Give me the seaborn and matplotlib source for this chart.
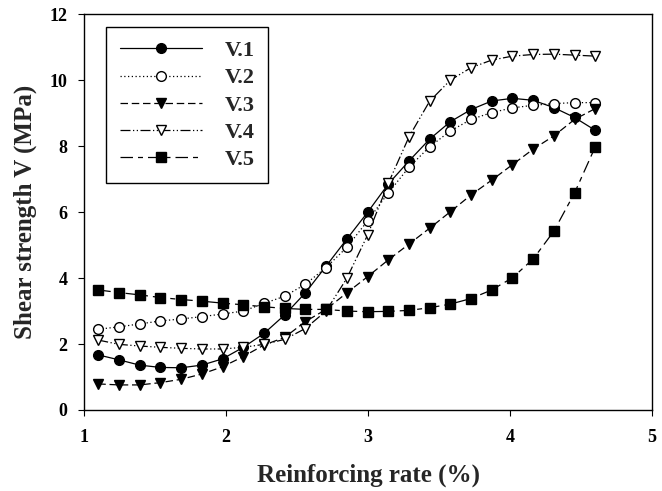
import numpy as np
import pandas as pd
import matplotlib
matplotlib.use("Agg")
import matplotlib.pyplot as plt
import seaborn as sns

# ---- data ----
reinforcing_rate = [1.100, 1.246, 1.392, 1.538, 1.683, 1.829, 1.975, 2.121, 2.267,
                    2.412, 2.558, 2.704, 2.850, 2.996, 3.142, 3.288, 3.433, 3.579,
                    3.725, 3.871, 4.017, 4.163, 4.308, 4.454, 4.600]
v1 = [1.67, 1.52, 1.36, 1.29, 1.28, 1.36, 1.55, 1.90, 2.32, 2.88, 3.55, 4.36, 5.18,
      5.99, 6.85, 7.55, 8.21, 8.74, 9.11, 9.37, 9.45, 9.39, 9.17, 8.87, 8.48]
v2 = [2.45, 2.52, 2.61, 2.70, 2.76, 2.83, 2.91, 3.00, 3.23, 3.45, 3.81, 4.32, 4.93,
      5.73, 6.58, 7.36, 7.98, 8.46, 8.81, 9.02, 9.16, 9.24, 9.29, 9.32, 9.32]
v3 = [0.79, 0.76, 0.76, 0.83, 0.93, 1.09, 1.31, 1.62, 1.97, 2.20, 2.68, 3.05, 3.55,
      4.04, 4.55, 5.03, 5.51, 6.01, 6.52, 6.97, 7.44, 7.91, 8.31, 8.81, 9.14]
v4 = [2.12, 1.99, 1.94, 1.90, 1.87, 1.85, 1.85, 1.90, 1.99, 2.14, 2.47, 3.00, 3.99,
      5.30, 6.87, 8.28, 9.36, 10.00, 10.38, 10.61, 10.73, 10.78, 10.79, 10.76, 10.73]
v5 = [3.64, 3.56, 3.49, 3.41, 3.35, 3.30, 3.24, 3.19, 3.13, 3.08, 3.05, 3.05, 3.00,
      2.98, 2.99, 3.02, 3.10, 3.21, 3.38, 3.64, 4.01, 4.58, 5.42, 6.58, 7.98]
series_names = ["V.1", "V.2", "V.3", "V.4", "V.5"]
x_ticks = [1, 2, 3, 4, 5]
y_ticks = [0, 2, 4, 6, 8, 10, 12]

# ---- styling ----
sns.set_theme(style="white")
plt.rcParams["font.family"] = ["Liberation Serif", "DejaVu Serif"]
plt.rcParams["font.weight"] = "bold"

fig = plt.figure(figsize=(6.62, 4.91), dpi=100)
ax = fig.add_axes([0.127, 0.165, 0.858, 0.806])

styles = {
    "V.1": dict(marker="o", mfc="black", linestyle="-"),
    "V.2": dict(marker="o", mfc="white", linestyle=(0, (1, 2))),
    "V.3": dict(marker="v", mfc="black", linestyle=(0, (6, 3))),
    "V.4": dict(marker="v", mfc="white", linestyle=(0, (8, 2, 1, 2, 1, 2))),
    "V.5": dict(marker="s", mfc="black", linestyle=(0, (10, 4, 4, 4))),
}
values = [v1, v2, v3, v4, v5]

for name, vals in zip(series_names, values):
    st = styles[name]
    sns.lineplot(x=reinforcing_rate, y=vals, ax=ax, color="black",
                 linewidth=0.9, linestyle=st["linestyle"], marker=st["marker"],
                 markersize=7, markerfacecolor=st["mfc"], markeredgecolor="black",
                 markeredgewidth=1.0, label=name, sort=False)

ax.set_xlim(1, 5)
ax.set_ylim(0, 12)
ax.set_xticks(x_ticks)
ax.set_yticks(y_ticks)
ax.set_xticklabels([str(t) for t in x_ticks], fontsize=13, fontweight="bold")
ax.set_yticklabels([str(t) for t in y_ticks], fontsize=13, fontweight="bold")
ax.tick_params(axis="x", direction="out", length=4, width=0.8, colors="black", pad=10,
               bottom=True)
ax.tick_params(axis="y", direction="out", length=4, width=0.8, colors="black", pad=8,
               left=True)
for sp in ax.spines.values():
    sp.set_color("black")
    sp.set_linewidth(1.0)

ax.set_xlabel("Reinforcing rate (%)", fontsize=18, fontweight="bold", labelpad=12)
ax.set_ylabel("Shear strength V (MPa)", fontsize=18, fontweight="bold", labelpad=9)

leg = ax.legend(loc="upper left", bbox_to_anchor=(0.039, 0.967), borderaxespad=0,
                frameon=True, fancybox=False, edgecolor="black", framealpha=1,
                handlelength=3.7, numpoints=1, labelspacing=0.3,
                prop={"family": "Liberation Serif", "weight": "bold", "size": 16},
                handletextpad=1.05, borderpad=0.6)
leg.get_frame().set_linewidth(1.0)

fig.savefig("out.png", dpi=100)
